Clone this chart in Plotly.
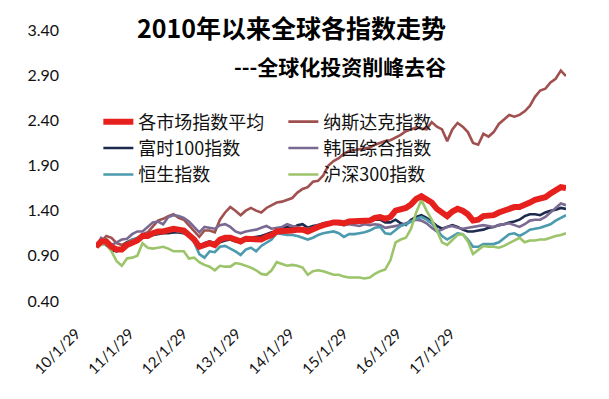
import plotly.graph_objects as go

# monthly observations (labels yy/m/29), shown in order along the axis
dates = [f"{y}/{m}/29" for y in range(10, 18) for m in range(1, 13)][:92]
tick_labels = ["10/1/29", "11/1/29", "12/1/29", "13/1/29", "14/1/29", "15/1/29", "16/1/29", "17/1/29"]

avg_all = [1.00,1.06,1.06,1.00,0.97,0.97,1.02,1.05,1.07,1.12, 1.12,1.15,1.17,1.17,1.19,1.20,1.19,1.18,1.13,1.08,
           1.00,1.02,1.04,1.02,1.08,1.10,1.10,1.08,1.06,1.09, 1.09,1.08,1.08,1.11,1.13,1.17,1.17,1.18,1.18,1.19,
           1.19,1.17,1.20,1.22,1.24,1.26,1.27,1.27,1.26,1.28, 1.28,1.28,1.29,1.29,1.32,1.33,1.31,1.33,1.40,1.41,
           1.43,1.47,1.53,1.56,1.52,1.49,1.42,1.37,1.34,1.39, 1.42,1.40,1.36,1.29,1.30,1.34,1.34,1.35,1.38,1.40,
           1.43,1.44,1.44,1.46,1.49,1.52,1.53,1.55,1.59,1.62, 1.66,1.65]

nasdaq = [1.00,1.06,1.12,1.10,1.04,1.02,1.05,1.08,1.09,1.14, 1.16,1.22,1.29,1.31,1.34,1.36,1.32,1.30,1.24,1.17,
          1.11,1.18,1.18,1.16,1.30,1.38,1.44,1.40,1.35,1.40, 1.43,1.40,1.38,1.43,1.46,1.49,1.50,1.52,1.54,1.60,
          1.64,1.66,1.72,1.73,1.79,1.90,1.95,1.98,2.03,2.06, 2.07,2.08,2.09,2.10,2.13,2.15,2.17,2.18,2.21,2.24,
          2.28,2.30,2.32,2.31,2.30,2.38,2.33,2.30,2.17,2.30, 2.37,2.33,2.27,2.15,2.13,2.25,2.22,2.27,2.36,2.41,
          2.46,2.44,2.46,2.50,2.56,2.66,2.73,2.75,2.82,2.86, 2.95,2.89]

ftse100 = [1.00,1.05,1.02,0.96,0.95,0.99,1.05,1.07,1.09,1.11, 1.12,1.13,1.14,1.15,1.15,1.16,1.16,1.15,1.12,1.07,
           1.00,1.04,1.06,1.04,1.05,1.07,1.08,1.06,1.07,1.10, 1.10,1.11,1.12,1.14,1.16,1.17,1.20,1.22,1.20,1.24,
           1.25,1.21,1.23,1.24,1.26,1.27,1.28,1.27,1.26,1.28, 1.27,1.29,1.28,1.29,1.30,1.30,1.27,1.27,1.30,1.26,
           1.24,1.30,1.33,1.35,1.32,1.28,1.23,1.20,1.22,1.24, 1.22,1.19,1.17,1.17,1.18,1.19,1.21,1.22,1.24,1.25,
           1.27,1.28,1.30,1.34,1.36,1.36,1.35,1.38,1.40,1.41, 1.43,1.42]

kospi = [1.00,1.10,1.06,1.02,1.05,1.08,1.09,1.14,1.17,1.17, 1.22,1.27,1.28,1.25,1.33,1.35,1.34,1.32,1.28,1.22,
         1.16,1.22,1.21,1.20,1.24,1.25,1.22,1.17,1.15,1.17, 1.18,1.19,1.21,1.23,1.20,1.21,1.22,1.25,1.23,1.22,
         1.20,1.20,1.21,1.24,1.25,1.26,1.26,1.25,1.24,1.25, 1.24,1.23,1.25,1.24,1.25,1.24,1.21,1.22,1.23,1.24,
         1.26,1.28,1.30,1.29,1.26,1.21,1.17,1.19,1.22,1.23, 1.21,1.20,1.21,1.22,1.23,1.24,1.23,1.22,1.24,1.25,
         1.26,1.24,1.22,1.25,1.29,1.30,1.30,1.33,1.38,1.44, 1.48,1.46]

hang_seng = [1.00,1.05,1.08,0.98,0.95,0.97,1.04,1.08,1.10,1.12, 1.13,1.14,1.15,1.16,1.17,1.18,1.17,1.16,1.12,1.05,
             0.92,0.88,0.95,0.94,1.00,1.01,0.98,0.95,0.91,0.97, 0.99,0.95,1.01,1.05,1.08,1.15,1.14,1.13,1.13,1.12,
             1.10,1.08,1.10,1.13,1.15,1.16,1.17,1.15,1.11,1.14, 1.14,1.15,1.16,1.18,1.21,1.22,1.15,1.14,1.19,1.23,
             1.25,1.28,1.31,1.33,1.30,1.26,1.19,1.12,1.08,1.12, 1.15,1.14,1.08,1.00,1.00,1.03,1.03,1.03,1.05,1.10,
             1.14,1.15,1.12,1.15,1.19,1.20,1.21,1.23,1.25,1.29, 1.32,1.35]

csi300 = [1.00,1.02,1.03,0.95,0.84,0.79,0.87,0.88,0.90,1.04, 0.99,0.98,0.99,1.00,0.98,0.95,0.95,0.95,0.87,0.88,
          0.83,0.80,0.78,0.74,0.79,0.78,0.78,0.82,0.81,0.79, 0.77,0.74,0.70,0.69,0.74,0.83,0.81,0.79,0.80,0.79,
          0.77,0.69,0.73,0.74,0.73,0.71,0.69,0.69,0.67,0.66, 0.66,0.66,0.65,0.66,0.70,0.73,0.75,0.85,1.05,1.08,
          1.10,1.20,1.38,1.52,1.40,1.30,1.18,1.05,1.02,1.08, 1.13,1.14,1.06,0.92,0.97,1.01,1.00,1.00,0.99,1.01,
          1.04,1.07,1.10,1.05,1.07,1.07,1.08,1.08,1.10,1.12, 1.13,1.15]

series = [
    ("各市场指数平均", avg_all, "#E6201C", 6, 1),
    ("纳斯达克指数", nasdaq, "#A0504E", 2.6, 2),
    ("富时100指数", ftse100, "#1C2A4E", 2.6, 3),
    ("韩国综合指数", kospi, "#7A6A92", 2.6, 4),
    ("恒生指数", hang_seng, "#4B9AAE", 2.6, 5),
    ("沪深300指数", csi300, "#9CC46A", 2.6, 6),
]

n = len(avg_all)
xpos = list(range(n))
label_step = 10.36  # spacing of the category labels along the axis, in observations
tick_pos = [k * label_step for k in range(len(tick_labels))]

fig = go.Figure()
# average drawn last so it sits on top
for name, vals, color, w, rank in series[1:] + series[:1]:
    fig.add_trace(go.Scatter(x=xpos, y=vals, customdata=dates, mode="lines", name=name,
                             legendrank=rank,
                             hovertemplate="%{customdata}: %{y:.2f}<extra>" + name + "</extra>",
                             line=dict(color=color, width=w)))

font_main = "Lato, 'Noto Sans CJK SC', sans-serif"
fig.update_layout(
    width=609, height=399,
    margin=dict(l=88, r=51, t=16, b=106),
    paper_bgcolor="white", plot_bgcolor="white",
    font=dict(family=font_main, color="#111111", size=15),
    showlegend=True,
    legend=dict(orientation="h", x=0.005, y=0.729, xanchor="left", yanchor="top",
                entrywidth=140, entrywidthmode="pixels", itemwidth=30,
                font=dict(size=18, family="'Noto Sans CJK SC', Lato, sans-serif", color="#111111"),
                bgcolor="rgba(0,0,0,0)", traceorder="normal"),
    xaxis=dict(range=[0, n - 1], tickmode="array", tickvals=tick_pos, ticktext=tick_labels,
               tickangle=-45, showgrid=False, zeroline=False, showline=False, ticks="",
               tickfont=dict(size=15, family=font_main), ticklabelstandoff=20, ticklabelshift=-20),
    yaxis=dict(range=[0.4, 3.4], tickmode="array", tickvals=[0.4, 0.9, 1.4, 1.9, 2.4, 2.9, 3.4],
               tickformat=".2f", showgrid=False, zeroline=False, showline=False, ticks="",
               tickfont=dict(size=16, family=font_main), ticklabelstandoff=36),
    annotations=[
        dict(text="<b>2010年以来全球各指数走势</b>", xref="paper", yref="paper", x=0.749, y=1.01,
             xanchor="right", yanchor="middle", showarrow=False,
             font=dict(size=25, family="'Noto Sans CJK SC', sans-serif", color="#000000")),
        dict(text="<b>---全球化投资削峰去谷</b>", xref="paper", yref="paper", x=0.749, y=0.866,
             xanchor="right", yanchor="middle", showarrow=False,
             font=dict(size=21, family="'Noto Sans CJK SC', sans-serif", color="#000000")),
    ],
)

fig.write_html("out.html")
